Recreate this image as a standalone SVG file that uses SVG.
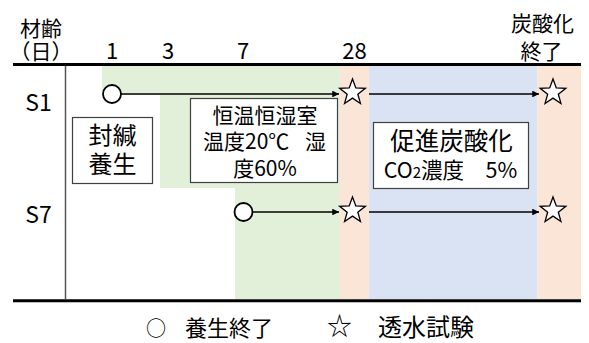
<svg xmlns="http://www.w3.org/2000/svg" width="589" height="343" viewBox="0 0 589 343">
<style>
text{font-family:"Noto Sans CJK JP","Noto Sans",sans-serif;fill:#000}
.h{font-size:21px;text-anchor:middle}
.d{font-size:22px;text-anchor:middle}
.row{font-size:23px;text-anchor:middle}
.box{fill:#fff;stroke:#404040;stroke-width:1.2}
.conn{stroke:#000;stroke-width:1.5;fill:none}
.mk{fill:#fff;stroke:#000;stroke-width:1.8}
.st{fill:#fff;stroke:#000;stroke-width:1.3;stroke-linejoin:miter}
</style>
<defs>
<marker id="ah" viewBox="0 0 10 10" refX="10" refY="5" markerWidth="4.5" markerHeight="4.5" orient="auto" markerUnits="strokeWidth">
<path d="M0,0 L10,5 L0,10 z" fill="#000"/>
</marker>
<polygon id="star" points="0,-13.5 3.29,-4.53 12.84,-4.17 5.33,1.73 7.94,10.92 0,5.6 -7.94,10.92 -5.33,1.73 -12.84,-4.17 -3.29,-4.53"/>
</defs>
<g id="background">
<polygon points="102,66 340,66 340,299 235,299 235,188 160,188 160,95 102,95" fill="#E2F0D9"/>
<rect x="340" y="66" width="29" height="233" fill="#FBE5D6"/>
<rect x="369" y="66" width="168.5" height="233" fill="#DAE3F3"/>
<rect x="537.5" y="66" width="43.5" height="233" fill="#FBE5D6"/>
<line x1="13" y1="64.5" x2="581" y2="64.5" stroke="#000" stroke-width="3"/>
<line x1="13" y1="300.8" x2="581" y2="300.8" stroke="#000" stroke-width="3"/>
<line x1="65.5" y1="66" x2="65.5" y2="299" stroke="#555" stroke-width="1.5"/>
</g>
<g id="header">
<text class="h" x="41" y="36">材齢</text>
<text class="h" x="41" y="59">（日）</text>
<text class="d" x="112" y="59">1</text>
<text class="d" x="168" y="59">3</text>
<text class="d" x="243" y="59">7</text>
<text class="d" x="354.5" y="59">28</text>
<text class="h" x="542.5" y="31">炭酸化</text>
<text class="h" x="541.5" y="59">終了</text>
</g>
<g id="rows">
<text class="row" x="38.5" y="111">S1</text>
<text class="row" x="38.5" y="223">S7</text>
</g>
<g id="node-sealed">
<rect class="box" x="72.5" y="117.5" width="80" height="66"/>
<text x="112.5" y="144" style="font-size:24px;text-anchor:middle">封緘</text>
<text x="112.5" y="173" style="font-size:24px;text-anchor:middle">養生</text>
</g>
<g id="node-chamber">
<rect class="box" x="190.5" y="98.5" width="147" height="84"/>
<text x="265" y="123" style="font-size:21px;text-anchor:middle">恒温恒湿室</text>
<text x="203" y="149" style="font-size:21px">温度20℃<tspan x="305">湿</tspan></text>
<text x="265" y="176" style="font-size:21px;text-anchor:middle">度60%</text>
</g>
<g id="node-carbonation">
<rect class="box" x="373.5" y="122.5" width="155" height="66"/>
<text x="451.5" y="150" style="font-size:24.5px;text-anchor:middle">促進炭酸化</text>
<text x="450.5" y="178" style="font-size:21.5px;text-anchor:middle">CO<tspan style="font-size:15px">2</tspan>濃度　5%</text>
</g>
<g id="connectors">
<line class="conn" x1="121" y1="94" x2="339" y2="94" marker-end="url(#ah)"/>
<line class="conn" x1="369" y1="94" x2="539" y2="94" marker-end="url(#ah)"/>
<line class="conn" x1="253" y1="212" x2="339" y2="212" marker-end="url(#ah)"/>
<line class="conn" x1="369" y1="212" x2="539" y2="212" marker-end="url(#ah)"/>
</g>
<g id="node-s1-start"><circle class="mk" cx="112" cy="94" r="9"/></g>
<g id="node-s1-test28"><use href="#star" class="st" x="352.5" y="92.5"/></g>
<g id="node-s1-end"><use href="#star" class="st" x="553" y="92.5"/></g>
<g id="node-s7-start"><circle class="mk" cx="243.5" cy="212" r="9"/></g>
<g id="node-s7-test28"><use href="#star" class="st" x="352.5" y="210.5"/></g>
<g id="node-s7-end"><use href="#star" class="st" x="553" y="210.5"/></g>
<g id="legend">
<text x="146" y="336" style="font-size:20px">○</text>
<text x="185" y="336" style="font-size:22px">養生終了</text>
<text x="327" y="335" style="font-size:25px">☆</text>
<text x="378" y="336" style="font-size:24px">透水試験</text>
</g>
</svg>
